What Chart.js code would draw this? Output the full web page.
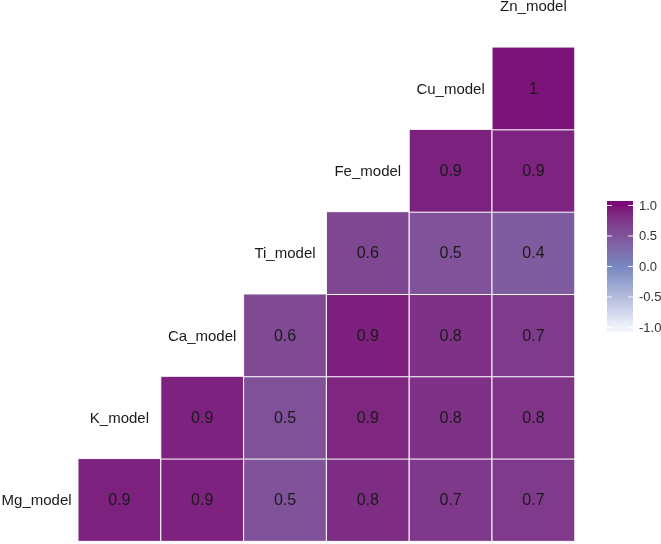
<!DOCTYPE html>
<html>
<head>
<meta charset="utf-8">
<script src="https://cdn.jsdelivr.net/npm/chart.js@4"></script>
<style>
  html, body { margin: 0; padding: 0; background: #fff; }
  #wrap { width: 661px; height: 544px; position: relative; }
</style>
</head>
<body>
<div id="wrap"><canvas id="corr"></canvas></div>
<script>
const variables = ['Mg_model', 'K_model', 'Ca_model', 'Ti_model', 'Fe_model', 'Cu_model', 'Zn_model'];

// correlations of each row variable with the variables to its right
// (estimated from the cell shades, labels are rounded to one decimal)
const mgRow = [0.91, 0.9, 0.52, 0.83, 0.74, 0.73];
const kRow = [0.9, 0.53, 0.88, 0.8, 0.78];
const caRow = [0.6, 0.92, 0.8, 0.72];
const tiRow = [0.62, 0.52, 0.44];
const feRow = [0.91, 0.89];
const cuRow = [0.98];

const legendTicks = [1.0, 0.5, 0.0, -0.5, -1.0];

const LOW = '#f0f4fa', MID = '#7787bf', HIGH = '#7c0d78';

// colour interpolation in Lab, like scale_fill_gradient2
function hexToRgb(h) {
    return [parseInt(h.slice(1, 3), 16), parseInt(h.slice(3, 5), 16), parseInt(h.slice(5, 7), 16)];
}
function lin(c) { c /= 255; return c <= 0.04045 ? c / 12.92 : Math.pow((c + 0.055) / 1.055, 2.4); }
function unlin(c) { c = c <= 0.0031308 ? 12.92 * c : 1.055 * Math.pow(c, 1 / 2.4) - 0.055; return Math.max(0, Math.min(255, Math.round(c * 255))); }
function rgbToLab(rgb) {
    const [r, g, b] = rgb.map(lin);
    let x = (r * 0.4124 + g * 0.3576 + b * 0.1805) / 0.95047;
    let y = (r * 0.2126 + g * 0.7152 + b * 0.0722);
    let z = (r * 0.0193 + g * 0.1192 + b * 0.9505) / 1.08883;
    const f = t => t > 0.008856 ? Math.cbrt(t) : 7.787 * t + 16 / 116;
    x = f(x); y = f(y); z = f(z);
    return [116 * y - 16, 500 * (x - y), 200 * (y - z)];
}
function labToRgb(lab) {
    const y = (lab[0] + 16) / 116, x = lab[1] / 500 + y, z = y - lab[2] / 200;
    const fi = t => t * t * t > 0.008856 ? t * t * t : (t - 16 / 116) / 7.787;
    const X = fi(x) * 0.95047, Y = fi(y), Z = fi(z) * 1.08883;
    const r = X * 3.2406 + Y * -1.5372 + Z * -0.4986;
    const g = X * -0.9689 + Y * 1.8758 + Z * 0.0415;
    const b = X * 0.0557 + Y * -0.2040 + Z * 1.0570;
    return [unlin(r), unlin(g), unlin(b)];
}
const labLow = rgbToLab(hexToRgb(LOW)), labMid = rgbToLab(hexToRgb(MID)), labHigh = rgbToLab(hexToRgb(HIGH));
function colorFor(v) {
    const b = v < 0 ? labLow : labHigh;
    const t = Math.min(1, Math.abs(v));
    const c = labToRgb([0, 1, 2].map(i => labMid[i] + (b[i] - labMid[i]) * t));
    return `rgb(${c[0]},${c[1]},${c[2]})`;
}

const rows = [mgRow, kRow, caRow, tiRow, feRow, cuRow];
const cells = [];
rows.forEach((row, i) => {
    row.forEach((v, k) => {
        cells.push({ x: i + 1 + k, y: i, v: v });
    });
});

function fmt(v) { return String(Number(v.toFixed(1))); }

const textPlugin = {
    id: 'corrText',
    afterDatasetsDraw(chart) {
        const ctx = chart.ctx;
        const xs = chart.scales.x, ys = chart.scales.y;
        ctx.save();
        ctx.textAlign = 'center';
        ctx.textBaseline = 'middle';
        ctx.fillStyle = '#1a1a1a';
        ctx.font = '15px "Liberation Sans", Arial, sans-serif';
        variables.forEach((name, i) => {
            ctx.fillText(name, xs.getPixelForValue(i), ys.getPixelForValue(i) + 1);
        });
        ctx.font = '16px "Liberation Sans", Arial, sans-serif';
        cells.forEach(c => {
            ctx.fillText(fmt(c.v), xs.getPixelForValue(c.x), ys.getPixelForValue(c.y) + 1);
        });
        ctx.restore();
    }
};

const colorbarPlugin = {
    id: 'colorbar',
    afterDraw(chart) {
        const ctx = chart.ctx;
        const left = 607, width = 26, top = 205, bottom = 327;
        ctx.save();
        for (let py = top - 4; py <= bottom + 4; py++) {
            const v = 1 - 2 * (py - top) / (bottom - top);
            ctx.fillStyle = colorFor(Math.max(-1, Math.min(1, v)));
            ctx.fillRect(left, py, width, 1);
        }
        ctx.font = '13px "Liberation Sans", Arial, sans-serif';
        ctx.textBaseline = 'middle';
        ctx.textAlign = 'left';
        legendTicks.forEach(t => {
            const py = top + (1 - t) / 2 * (bottom - top);
            ctx.strokeStyle = 'rgba(255,255,255,0.9)';
            ctx.lineWidth = 1;
            ctx.beginPath();
            ctx.moveTo(left, py + 0.5); ctx.lineTo(left + 5, py + 0.5);
            ctx.moveTo(left + width - 5, py + 0.5); ctx.lineTo(left + width, py + 0.5);
            ctx.stroke();
            ctx.fillStyle = '#333';
            ctx.fillText(t.toFixed(1), left + width + 6, py + 1);
        });
        ctx.restore();
    }
};

new Chart(document.getElementById('corr'), {
    type: 'scatter',
    data: {
        datasets: [{
            data: cells,
            pointStyle: 'rect',
            pointRadius: (c) => {
                const s = c.chart.scales.x;
                return (s.getPixelForValue(1) - s.getPixelForValue(0)) / Math.SQRT2;
            },
            pointHoverRadius: (c) => {
                const s = c.chart.scales.x;
                return (s.getPixelForValue(1) - s.getPixelForValue(0)) / Math.SQRT2;
            },
            backgroundColor: (c) => c.raw ? colorFor(c.raw.v) : MID,
            borderColor: '#ffffff',
            borderWidth: 1,
            hoverBorderWidth: 1
        }]
    },
    options: {
        responsive: true,
        maintainAspectRatio: false,
        animation: false,
        layout: { padding: 0 },
        scales: {
            x: { type: 'linear', min: -0.442, max: 7.541, display: false },
            y: { type: 'linear', min: -0.535, max: 6.075, display: false }
        },
        plugins: {
            legend: { display: false },
            tooltip: { enabled: false }
        },
        events: []
    },
    plugins: [textPlugin, colorbarPlugin]
});
</script>
</body>
</html>
